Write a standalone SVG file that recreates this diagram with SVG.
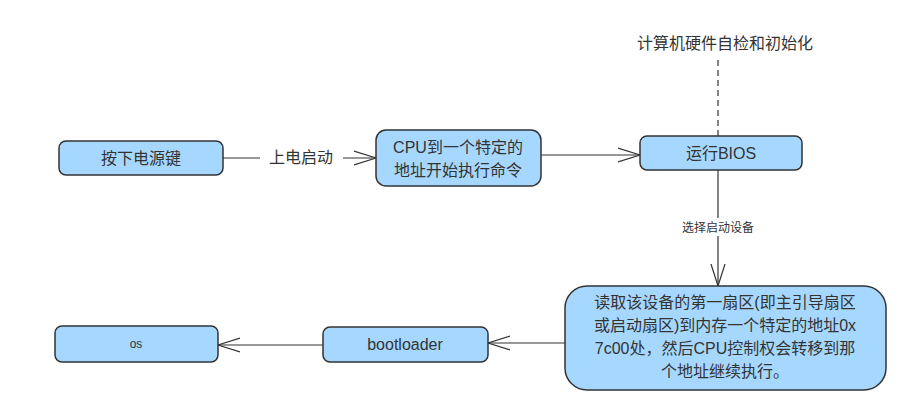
<svg xmlns="http://www.w3.org/2000/svg" width="911" height="414" viewBox="0 0 911 414">
<style>
.n{fill:#a6d8ff;stroke:#333;stroke-width:1.5}
.t{font-family:"Liberation Sans","Noto Sans CJK SC",sans-serif;font-size:16px;fill:#333;text-anchor:middle}
.c{stroke:#333;stroke-width:1.2;fill:none}
</style>
<defs><marker id="a" markerWidth="24" markerHeight="16" refX="22" refY="8" orient="auto" markerUnits="userSpaceOnUse"><path d="M0,1 L22,8 L0,15" fill="none" stroke="#333" stroke-width="1.2"/></marker></defs>
<rect width="911" height="414" fill="#fff"/>
<g id="connectors">
<path class="c" d="M223,158 H260"/><path class="c" d="M343,158 H376" marker-end="url(#a)"/>
<text class="t" x="301" y="163">上电启动</text>
<path class="c" d="M541,155 H640" marker-end="url(#a)"/>
<path class="c" d="M718,60 V136" stroke-dasharray="6,4"/>
<path class="c" d="M718,170 V286" marker-end="url(#a)"/>
<rect x="670" y="218" width="96" height="18" fill="#fff"/>
<text class="t" x="718" y="232" style="font-size:12px">选择启动设备</text>
<path class="c" d="M565,343 H488" marker-end="url(#a)"/>
<path class="c" d="M323,345 H218" marker-end="url(#a)"/>
</g>
<text class="t" x="725" y="49">计算机硬件自检和初始化</text>
<g id="n1"><rect class="n" x="59" y="141" width="164" height="34" rx="7"/><text class="t" x="141" y="164">按下电源键</text></g>
<g id="n2"><rect class="n" x="376" y="130" width="165" height="56" rx="10"/><text class="t" x="458" y="153">CPU到一个特定的</text><text class="t" x="458" y="176">地址开始执行命令</text></g>
<g id="n3"><rect class="n" x="640" y="136" width="162" height="34" rx="7"/><text class="t" x="721" y="159">运行BIOS</text></g>
<g id="n4"><rect class="n" x="565" y="286" width="321" height="104" rx="22"/>
<text class="t" x="725" y="308">读取该设备的第一扇区(即主引导扇区</text>
<text class="t" x="725" y="331">或启动扇区)到内存一个特定的地址0x</text>
<text class="t" x="725" y="354">7c00处，然后CPU控制权会转移到那</text>
<text class="t" x="725" y="377">个地址继续执行。</text></g>
<g id="n5"><rect class="n" x="323" y="327" width="165" height="35" rx="7"/><text class="t" x="405" y="350">bootloader</text></g>
<g id="n6"><rect class="n" x="55" y="326" width="163" height="36" rx="7"/><text class="t" x="136" y="348" style="font-size:12px">os</text></g>
</svg>
